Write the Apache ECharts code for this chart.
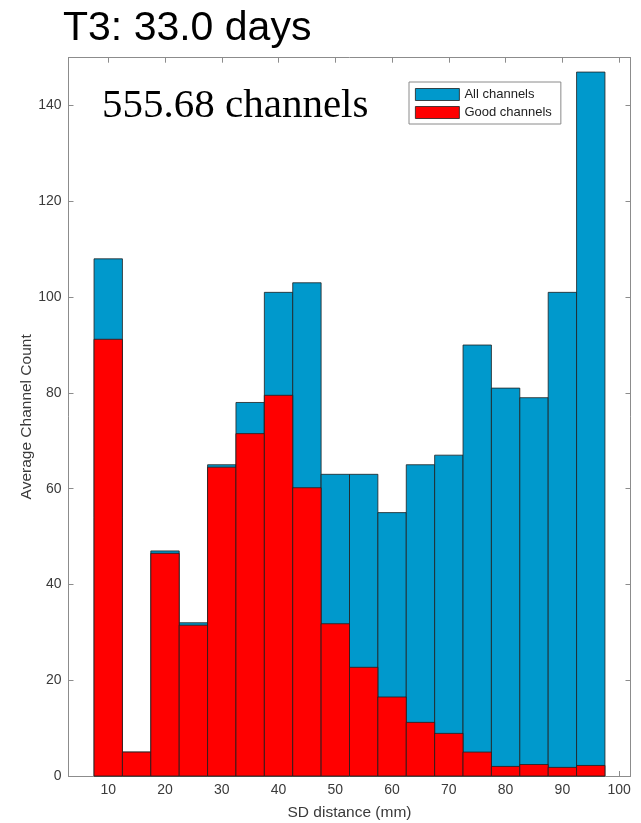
<!DOCTYPE html>
<html>
<head>
<meta charset="utf-8">
<script src="https://cdn.jsdelivr.net/npm/echarts@6/dist/echarts.min.js"></script>
<style>
html,body{margin:0;padding:0;background:#fff;}
#chart{width:641px;height:823px;}
</style>
</head>
<body>
<div id="chart"></div>
<script>
// ---- data ----
const binEdges = [7.5, 12.5, 17.5, 22.5, 27.5, 32.5, 37.5, 42.5, 47.5, 52.5, 57.5, 62.5, 67.5, 72.5, 77.5, 82.5, 87.5, 92.5, 97.5];
const allChannels = [108, 5, 47, 32, 65, 78, 101, 103, 63, 63, 55, 65, 67, 90, 81, 79, 101, 147];
const goodChannels = [91.2, 5, 46.5, 31.5, 64.5, 71.5, 79.5, 60.2, 31.8, 22.7, 16.5, 11.2, 8.9, 5.0, 2.0, 2.4, 1.8, 2.2];
const xTicks = [10, 20, 30, 40, 50, 60, 70, 80, 90, 100];
const yTicks = [0, 20, 40, 60, 80, 100, 120, 140];
const seriesNames = ['All channels', 'Good channels'];
const titleText = 'T3: 33.0 days';
const noteText = '555.68 channels';
const xName = 'SD distance (mm)';
const yName = 'Average Channel Count';

const BLUE = '#0099CC';
const RED = '#FF0000';
const EDGE = '#1f1f1f';
const AXIS = '#8c8c8c';
const LABEL = '#3a3a3a';
const SANS = 'Liberation Sans, Arial, Helvetica, sans-serif';

function toData(vals) {
  return vals.map((v, i) => [binEdges[i], binEdges[i + 1], v]);
}

function renderBar(params, api) {
  const x0 = api.value(0), x1 = api.value(1), v = api.value(2);
  const p0 = api.coord([x0, v]);
  const p1 = api.coord([x1, 0]);
  return {
    type: 'rect',
    shape: { x: p0[0], y: p0[1], width: p1[0] - p0[0], height: p1[1] - p0[1] },
    style: api.style({ stroke: EDGE, lineWidth: 0.8 })
  };
}

const chart = echarts.init(document.getElementById('chart'), null, { renderer: 'canvas' });

const baseX = {
  type: 'value', min: 3, max: 102,
  splitLine: { show: false },
  axisLine: { show: true, onZero: false, lineStyle: { color: AXIS, width: 1 } },
  axisTick: { show: true, inside: true, length: 5, customValues: xTicks, lineStyle: { color: AXIS, width: 1 } }
};
const baseY = {
  type: 'value', min: 0, max: 150,
  splitLine: { show: false },
  axisLine: { show: true, onZero: false, lineStyle: { color: AXIS, width: 1 } },
  axisTick: { show: true, inside: true, length: 5, customValues: yTicks, lineStyle: { color: AXIS, width: 1 } }
};

const option = {
  backgroundColor: '#ffffff',
  animation: false,
  title: [
    {
      text: titleText, left: 63, top: 8, padding: 0,
      textStyle: { fontFamily: SANS, fontSize: 41, fontWeight: 'normal', color: '#000' }
    },
    {
      text: noteText, left: 102, top: 86, padding: 0,
      textStyle: { fontFamily: 'Liberation Serif, Times New Roman, serif', fontSize: 41, fontWeight: 'normal', color: '#000' }
    }
  ],
  grid: { left: 68.5, right: 10.5, top: 57.7, bottom: 47, containLabel: false, outerBoundsMode: 'none' },
  legend: {
    orient: 'vertical',
    left: 409, top: 82,
    padding: [6, 9, 5, 6],
    itemGap: 5,
    itemWidth: 44, itemHeight: 12,
    borderColor: '#8a8a8a', borderWidth: 1,
    backgroundColor: '#fff',
    icon: 'rect',
    itemStyle: { borderColor: EDGE, borderWidth: 0.8 },
    textStyle: { fontFamily: SANS, fontSize: 13, color: '#222' },
    data: seriesNames
  },
  xAxis: [
    Object.assign({}, baseX, {
      position: 'bottom',
      name: xName, nameLocation: 'middle', nameGap: 29, nameMoveOverlap: false,
      nameTextStyle: { fontFamily: SANS, fontSize: 15.5, color: LABEL },
      axisLabel: { show: true, customValues: xTicks, margin: 7, fontFamily: SANS, fontSize: 14, color: LABEL }
    }),
    Object.assign({}, baseX, {
      position: 'top',
      axisLabel: { show: false }
    })
  ],
  yAxis: [
    Object.assign({}, baseY, {
      position: 'left',
      name: yName, nameLocation: 'middle', nameGap: 34, nameMoveOverlap: false,
      nameTextStyle: { fontFamily: SANS, fontSize: 15.5, color: LABEL },
      axisLabel: { show: true, customValues: yTicks, margin: 7, fontFamily: SANS, fontSize: 14, color: LABEL }
    }),
    Object.assign({}, baseY, {
      position: 'right',
      axisLabel: { show: false }
    })
  ],
  series: [
    {
      name: seriesNames[0], type: 'custom',
      xAxisIndex: 0, yAxisIndex: 0,
      renderItem: renderBar,
      itemStyle: { color: BLUE },
      encode: { x: [0, 1], y: 2 },
      data: toData(allChannels),
      z: 2
    },
    {
      name: seriesNames[1], type: 'custom',
      xAxisIndex: 0, yAxisIndex: 0,
      renderItem: renderBar,
      itemStyle: { color: RED },
      encode: { x: [0, 1], y: 2 },
      data: toData(goodChannels),
      z: 3
    }
  ]
};
chart.setOption(option);
</script>
</body>
</html>
